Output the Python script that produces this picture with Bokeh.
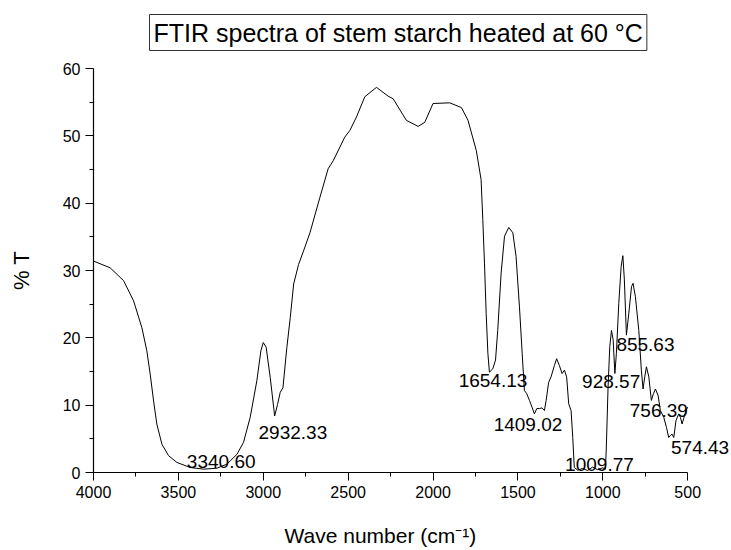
from bokeh.plotting import figure
from bokeh.models import Range1d, FixedTicker, ColumnDataSource, LabelSet, Title
from bokeh.core.properties import value
from bokeh.embed import file_html
from bokeh.resources import INLINE

wavenumber = [4000, 3902, 3823, 3764, 3715, 3686, 3666, 3646, 3627, 3597, 3558, 3509,
              3430, 3352, 3273, 3214, 3155, 3116, 3077, 3038, 3014, 3000, 2983, 2959,
              2933, 2916, 2900, 2884, 2861, 2841, 2821, 2792, 2763, 2725, 2667, 2618,
              2588, 2520, 2490, 2451, 2402, 2333, 2265, 2235, 2157, 2088, 2049, 2000,
              1902, 1833, 1794, 1745, 1717, 1707, 1697, 1687, 1677, 1668, 1648, 1632,
              1619, 1599, 1579, 1554, 1530, 1511, 1491, 1475, 1462, 1448, 1432, 1417,
              1403, 1389, 1373, 1358, 1344, 1334, 1319, 1305, 1285, 1272, 1256, 1240,
              1226, 1213, 1201, 1187, 1177, 1168, 1148, 1120, 1090, 1060, 1030, 1000,
              985, 980, 969, 959, 949, 939, 929, 920, 906, 892, 882, 873, 861, 847,
              831, 822, 808, 788, 773, 763, 753, 743, 729, 714, 702, 690, 674, 661,
              641, 625, 612, 602, 592, 582, 569, 553, 543, 533, 524, 510, 500]
transmittance = [31.4, 30.4, 28.5, 25.5, 21.5, 18.1, 14.6, 10.6, 7.2, 4.2, 2.5, 1.5,
                 0.74, 0.5, 0.64, 1.24, 2.7, 4.5, 8.2, 13.6, 18.1, 19.3, 18.6, 14.1,
                 8.4, 10.1, 11.9, 12.6, 18.6, 23.0, 28.0, 30.9, 32.9, 35.6, 40.8, 45.1,
                 46.3, 49.8, 50.8, 52.8, 55.8, 57.2, 55.9, 55.5, 52.3, 51.4, 52.0, 54.8,
                 54.9, 54.2, 52.3, 47.8, 43.5, 37.6, 31.1, 23.6, 17.7, 14.9, 15.4, 16.7,
                 21.1, 29.6, 35.1, 36.4, 35.6, 32.1, 24.6, 17.7, 12.2, 11.7, 10.7, 9.7,
                 8.7, 9.5, 9.5, 9.6, 9.2, 10.7, 13.4, 14.2, 15.9, 16.9, 15.9, 14.7,
                 15.2, 14.2, 10.2, 9.2, 5.2, 0.75, 0.35, 0.6, 0.3, 0.8, 0.4, 0.7,
                 0.5, 3.2, 12.7, 18.7, 21.1, 19.7, 14.7, 17.7, 25.1, 30.6, 32.2, 28.6, 20.4, 23.6,
                 27.6, 28.1, 26.1, 21.1, 15.2, 12.4, 14.2, 15.7, 14.2, 10.7, 11.7, 12.4, 11.4, 9.2,
                 8.2, 6.7, 5.2, 5.5, 5.7, 5.2, 7.7, 8.7, 8.2, 7.2, 8.0, 9.2, 9.7]

peak_labels = ["3340.60", "2932.33", "1654.13", "1409.02", "1009.77",
               "928.57", "855.63", "756.39", "574.43"]
peak_label_x = [3450, 3028, 1849, 1643, 1222, 1122, 920, 841, 598]
peak_label_y = [0.65, 4.97, 12.65, 6.1, 0.2, 12.56, 18.0, 8.3, 2.74]

x_major = [4000, 3500, 3000, 2500, 2000, 1500, 1000, 500]
x_minor = [3750, 3250, 2750, 2250, 1750, 1250, 750]
y_major = [0, 10, 20, 30, 40, 50, 60]
y_minor = [5, 15, 25, 35, 45, 55]

title_text = "FTIR spectra of stem starch heated at 60 \u00b0C"
x_title = "Wave number (cm\u207b\u00b9)"
y_title = "% T"

FONT = "Liberation Sans"

p = figure(width=731, height=550, output_backend="svg", toolbar_location=None,
           x_range=Range1d(4000, 242), y_range=Range1d(0, 60),
           min_border_left=93, min_border_right=0, min_border_top=68,
           min_border_bottom=78)
p.outline_line_color = None
p.xgrid.grid_line_color = None
p.ygrid.grid_line_color = None
p.background_fill_color = "white"
p.border_fill_color = "white"

p.line(wavenumber, transmittance, line_color="black", line_width=1)

src = ColumnDataSource(dict(x=peak_label_x, y=peak_label_y, text=peak_labels))
p.add_layout(LabelSet(x="x", y="y", text="text", source=src,
                      text_font=value(FONT), text_font_size="19px",
                      text_color="black", text_align="left",
                      text_baseline="alphabetic"))

p.title.text = title_text
p.title.text_font = FONT
p.title.text_font_size = "25px"
p.title.text_font_style = "normal"
p.title.text_color = "black"
p.title.align = "left"
p.title.offset = 56
p.title.vertical_align = "bottom"
p.title.border_line_color = "#333333"
p.title.border_line_width = 1
p.title.padding = 4

# small spacer between the title box and the plot area
p.add_layout(Title(text=" ", text_font_size="1px", standoff=10), "above")

for ax in (p.xaxis[0], p.yaxis[0]):
    ax.axis_line_color = "black"
    ax.axis_line_width = 1.2
    ax.major_tick_line_color = "black"
    ax.minor_tick_line_color = "black"
    ax.major_tick_out = 8
    ax.major_tick_in = 0
    ax.minor_tick_out = 4
    ax.minor_tick_in = 0
    ax.major_label_text_font = FONT
    ax.major_label_text_font_size = "16px"
    ax.major_label_text_color = "black"
    ax.axis_label_text_font = FONT
    ax.axis_label_text_font_style = "normal"
    ax.axis_label_text_color = "black"

p.xaxis[0].ticker = FixedTicker(ticks=x_major, minor_ticks=x_minor)
p.xaxis[0].bounds = (500, 4000)
p.yaxis[0].ticker = FixedTicker(ticks=y_major, minor_ticks=y_minor)
p.xaxis[0].major_label_standoff = 5
p.yaxis[0].major_label_standoff = 5
p.yaxis[0].axis_label = y_title
p.yaxis[0].axis_label_text_font_size = "22px"
p.yaxis[0].axis_label_standoff = 26

# spacer, then the x-axis title below the tick labels
p.add_layout(Title(text=" ", text_font_size="1px", standoff=16), "below")
xlab = Title(text=x_title, text_font=FONT, text_font_size="21px",
             text_font_style="normal", text_color="black",
             align="left", offset=191, standoff=4)
p.add_layout(xlab, "below")

open("out.html", "w").write(file_html(p, INLINE))
